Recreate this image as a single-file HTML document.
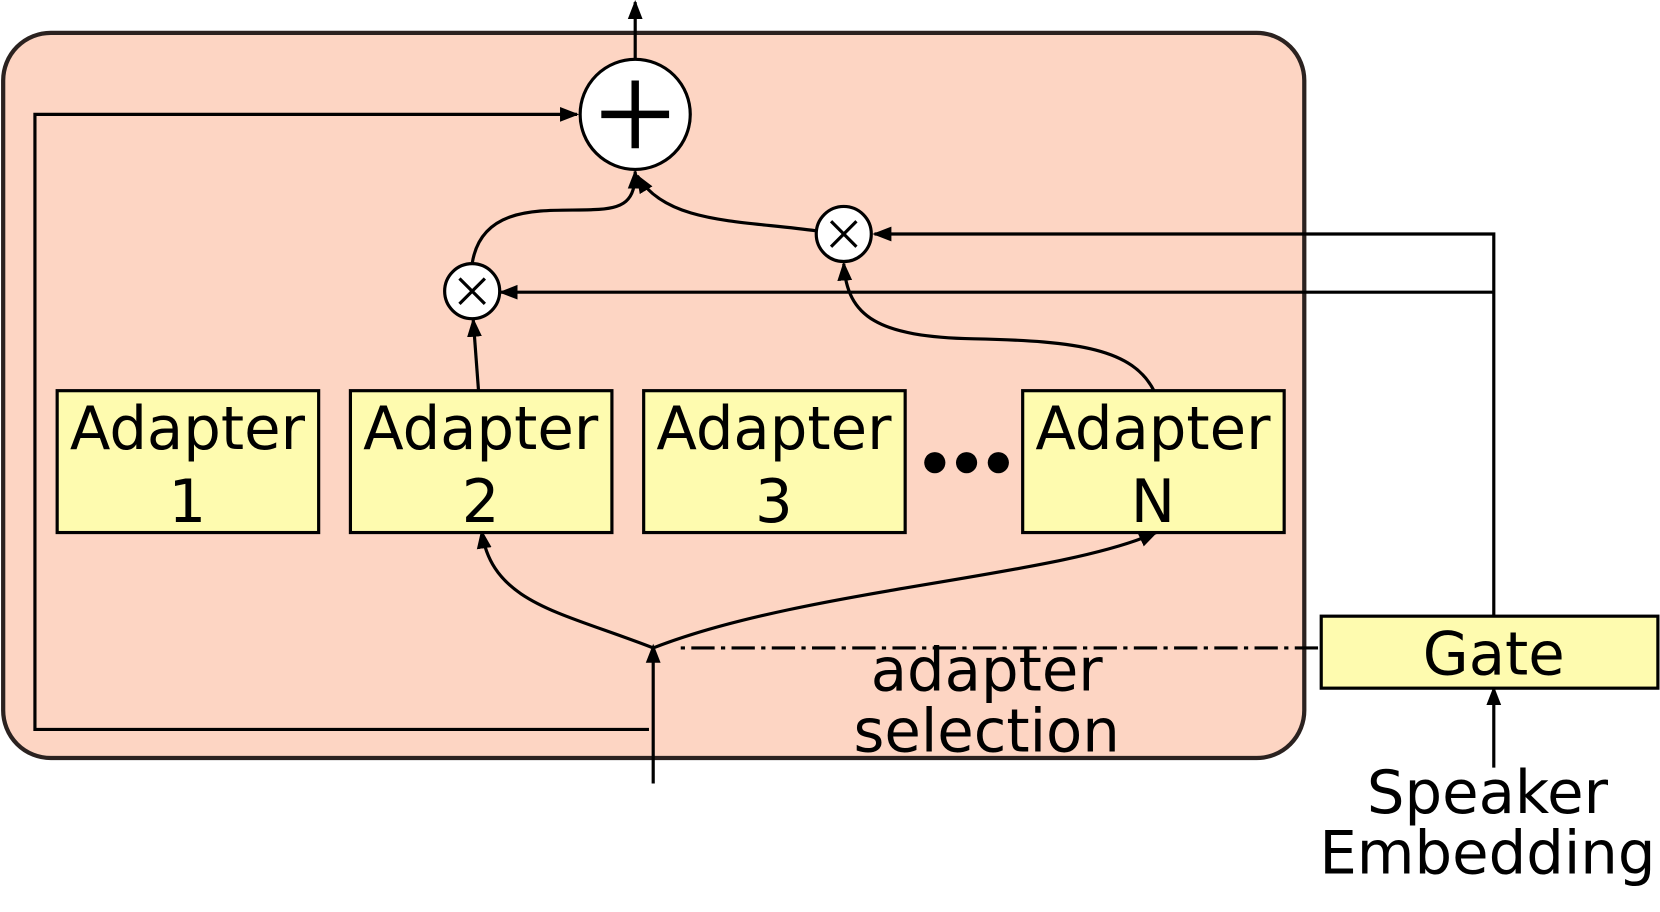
<!DOCTYPE html>
<html><head><meta charset="utf-8"><style>
html,body{margin:0;padding:0;background:#fff;width:1660px;height:912px;overflow:hidden}
text{font-family:"DejaVu Sans","Liberation Sans",sans-serif;fill:#000}
</style></head><body>
<svg width="1660" height="912" viewBox="0 0 1568 861.4" xmlns="http://www.w3.org/2000/svg">
<defs>
<marker id="a" markerWidth="24" markerHeight="20" refX="16" refY="10" orient="auto" markerUnits="userSpaceOnUse"><path d="M0,3 L18,10 L0,17 Z" fill="#000"/></marker></defs>
<rect x="3" y="31" width="1229" height="685" rx="45" fill="#fdd5c3" stroke="#2b2220" stroke-width="4"/>
<g fill="none" stroke="#000" stroke-width="3">
<line x1="600" y1="56" x2="600" y2="2" marker-end="url(#a)"/>
<polyline points="613,689 33,689 33,108 545,108" marker-end="url(#a)"/>
<line x1="452" y1="369" x2="447" y2="302" marker-end="url(#a)"/>
<path d="M446,249 C455,190 520,200 560,198 C590,197 600,190 600,162" marker-end="url(#a)"/>
<path d="M771,218 C700,208 630,212 602,166" marker-end="url(#a)"/>
<path d="M1090,369 C1070,330 1020,322 920,320 C830,318 800,300 797,249" marker-end="url(#a)"/>
<line x1="617" y1="740" x2="617" y2="610" marker-end="url(#a)"/>
<path d="M617,612 C530,578 465,570 455,502" marker-end="url(#a)"/>
<path d="M617,612 C760,556 1000,545 1092,503" marker-end="url(#a)"/>
<polyline points="1411,582 1411,221 826,221" marker-end="url(#a)"/>
<polyline points="1411,276 473,276" marker-end="url(#a)"/>
<line x1="1411" y1="725" x2="1411" y2="650" marker-end="url(#a)"/>
<line x1="1245" y1="612" x2="640" y2="612" stroke-dasharray="22,6,4,6"/>
</g>
<g><circle cx="600" cy="108" r="52" fill="#fff" stroke="#000" stroke-width="3"/>
<line x1="568" y1="108" x2="632" y2="108" stroke="#000" stroke-width="7"/><line x1="600" y1="76" x2="600" y2="140" stroke="#000" stroke-width="7"/></g>
<g><circle cx="446" cy="275" r="26" fill="#fff" stroke="#000" stroke-width="3"/><path d="M434,263 L458,287 M458,263 L434,287" stroke="#000" stroke-width="3"/></g>
<g><circle cx="797" cy="221" r="26" fill="#fff" stroke="#000" stroke-width="3"/><path d="M785,209 L809,233 M809,209 L785,233" stroke="#000" stroke-width="3"/></g>
<g font-size="56" text-anchor="middle">
<g><rect x="54" y="369" width="247" height="134" fill="#fefbaf" stroke="#000" stroke-width="3"/><text x="177" y="424">Adapter</text><text x="177" y="493">1</text></g>
<g><rect x="331" y="369" width="247" height="134" fill="#fefbaf" stroke="#000" stroke-width="3"/><text x="454" y="424">Adapter</text><text x="454" y="493">2</text></g>
<g><rect x="608" y="369" width="247" height="134" fill="#fefbaf" stroke="#000" stroke-width="3"/><text x="731" y="424">Adapter</text><text x="731" y="493">3</text></g>
<g><rect x="966" y="369" width="247" height="134" fill="#fefbaf" stroke="#000" stroke-width="3"/><text x="1089" y="424">Adapter</text><text x="1089" y="493">N</text></g>
<g><circle cx="883" cy="437" r="10" fill="#000"/><circle cx="913" cy="437" r="10" fill="#000"/><circle cx="943" cy="437" r="10" fill="#000"/></g>
<g><rect x="1248" y="582" width="318" height="68" fill="#fefbaf" stroke="#000" stroke-width="3"/><text x="1411" y="637">Gate</text></g>
<text x="932" y="652">adapter</text>
<text x="932" y="710">selection</text>
<text x="1405" y="768">Speaker</text>
<text x="1405" y="825">Embedding</text>
</g>
</svg>
</body></html>
